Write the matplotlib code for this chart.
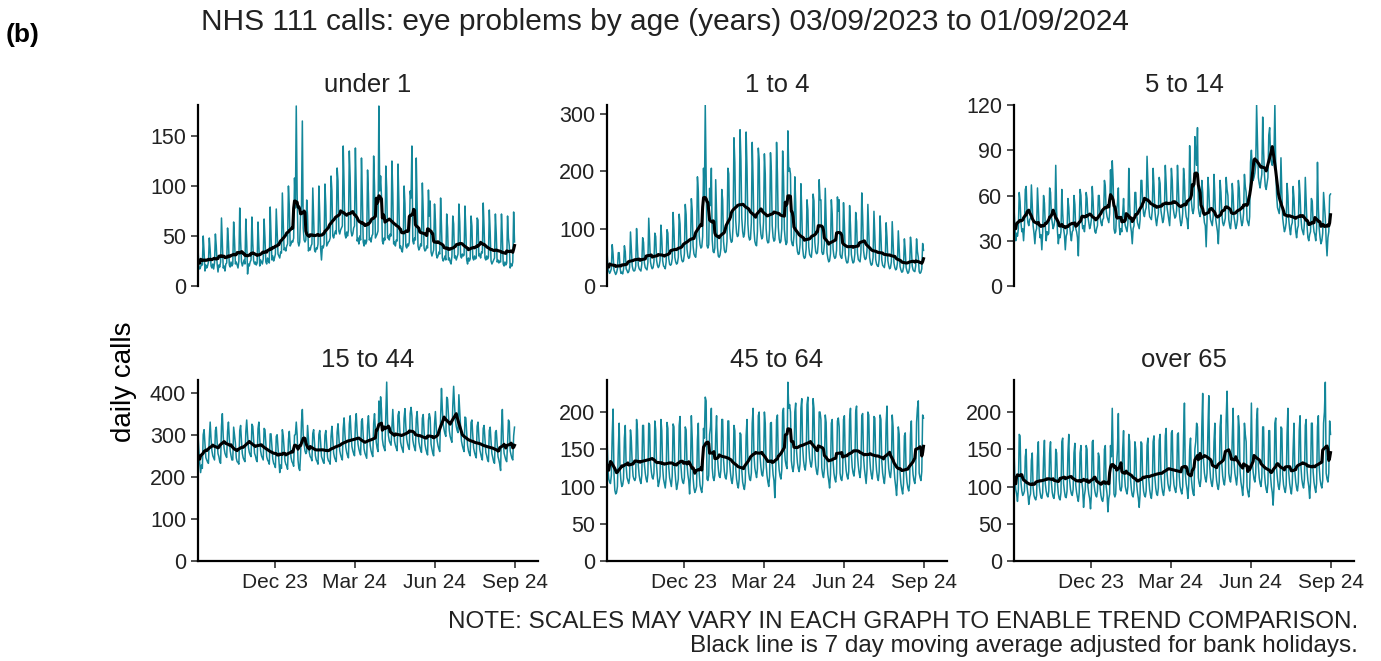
import matplotlib
matplotlib.use('Agg')
import matplotlib.pyplot as plt
import matplotlib.dates as mdates
import numpy as np
import pandas as pd

plt.rcParams['font.family'] = ['Liberation Sans', 'DejaVu Sans']

# 03/09/2023 (Sunday) .. 01/09/2024
dates = pd.date_range('2023-09-03', '2024-09-01', freq='D')

# daily calls, one row per week (Sun..Sat), last row = Sun 01/09/2024
under_1 = [
    [38, 20, 17, 19, 22, 21, 50], [34, 15, 21, 18, 20, 24, 48], [36, 20, 18, 22, 17, 23, 52],
    [40, 22, 14, 21, 19, 24, 68], [42, 18, 20, 15, 22, 23, 58], [44, 21, 19, 24, 20, 22, 64],
    [46, 22, 24, 21, 18, 25, 78], [45, 24, 20, 23, 26, 22, 67], [44, 12, 22, 20, 24, 26, 69],
    [42, 25, 22, 24, 21, 23, 64], [40, 20, 26, 24, 22, 27, 67], [48, 24, 22, 28, 25, 23, 79],
    [50, 26, 30, 25, 28, 32, 77], [55, 32, 30, 28, 34, 33, 93], [66, 36, 38, 35, 40, 42, 100],
    [80, 40, 42, 45, 44, 48, 108], [78, 180, 92, 44, 40, 44, 74], [80, 165, 58, 46, 44, 46, 86],
    [70, 35, 38, 36, 40, 42, 98], [68, 36, 34, 38, 37, 42, 100], [72, 38, 26, 40, 38, 42, 102],
    [80, 40, 42, 44, 45, 48, 110], [95, 50, 48, 52, 55, 52, 118], [105, 55, 52, 56, 58, 60, 140],
    [100, 52, 48, 54, 50, 56, 135], [108, 55, 50, 52, 58, 60, 138], [95, 45, 48, 42, 50, 46, 128],
    [90, 44, 40, 46, 42, 45, 116], [92, 46, 48, 44, 50, 52, 130], [100, 48, 50, 52, 55, 180, 95],
    [110, 90, 45, 42, 48, 46, 120], [98, 48, 50, 46, 52, 50, 125], [92, 42, 44, 40, 46, 45, 122],
    [85, 38, 40, 36, 34, 42, 100], [82, 40, 38, 42, 40, 44, 95], [88, 140, 45, 42, 48, 46, 128],
    [80, 40, 36, 38, 42, 40, 103], [75, 38, 35, 36, 40, 38, 96], [70, 85, 34, 30, 33, 36, 82],
    [66, 32, 28, 30, 34, 32, 88], [60, 28, 25, 27, 30, 26, 72], [58, 26, 28, 24, 22, 30, 70],
    [62, 28, 30, 26, 29, 32, 82], [64, 30, 28, 32, 30, 31, 80], [56, 26, 22, 28, 25, 27, 70],
    [60, 28, 26, 30, 27, 28, 68], [66, 30, 32, 28, 34, 33, 83], [58, 28, 26, 30, 27, 29, 76],
    [54, 25, 22, 24, 26, 28, 72], [52, 24, 26, 23, 25, 24, 72], [50, 22, 20, 24, 21, 23, 70],
    [48, 40, 18, 22, 20, 24, 74], [44],
]

age_1_4 = [
    [62, 32, 26, 22, 25, 30, 72], [55, 28, 24, 20, 23, 30, 58], [58, 32, 22, 24, 21, 29, 70],
    [60, 30, 27, 23, 25, 32, 94], [66, 35, 28, 26, 27, 34, 100], [70, 36, 30, 28, 26, 38, 84],
    [76, 40, 32, 30, 28, 40, 118], [80, 42, 34, 30, 32, 42, 92], [86, 45, 36, 32, 35, 44, 106],
    [82, 44, 35, 33, 30, 42, 98], [92, 48, 38, 36, 38, 48, 128], [98, 50, 42, 38, 40, 50, 125],
    [108, 56, 45, 42, 44, 56, 142], [124, 64, 52, 48, 50, 64, 152], [132, 70, 56, 52, 50, 68, 190],
    [165, 88, 72, 66, 68, 86, 205], [150, 315, 185, 70, 66, 72, 170], [140, 205, 80, 60, 58, 66, 185],
    [130, 68, 52, 50, 54, 66, 168], [150, 78, 62, 58, 60, 78, 205], [195, 100, 82, 76, 78, 104, 258],
    [215, 115, 92, 86, 88, 112, 272], [220, 118, 95, 85, 90, 116, 268], [205, 108, 86, 80, 82, 110, 250],
    [185, 98, 78, 72, 70, 95, 240], [220, 110, 90, 82, 85, 112, 230], [195, 100, 80, 75, 76, 98, 232],
    [200, 105, 85, 78, 80, 104, 250], [195, 102, 82, 75, 78, 100, 235], [190, 98, 80, 72, 76, 270, 200],
    [205, 195, 80, 72, 70, 88, 190], [145, 75, 60, 55, 56, 72, 178], [128, 66, 52, 48, 50, 64, 150],
    [132, 68, 55, 52, 50, 68, 160], [148, 76, 60, 56, 58, 76, 185], [150, 150, 60, 55, 56, 74, 170],
    [112, 58, 48, 42, 44, 56, 150], [125, 64, 52, 48, 50, 62, 155], [130, 150, 55, 50, 48, 62, 145],
    [108, 54, 44, 40, 41, 54, 140], [105, 55, 45, 40, 42, 55, 128], [112, 58, 46, 44, 42, 58, 162],
    [120, 62, 50, 46, 48, 62, 142], [98, 50, 40, 36, 38, 50, 130], [90, 46, 38, 35, 34, 46, 122],
    [88, 45, 36, 34, 32, 44, 110], [84, 44, 35, 30, 32, 42, 112], [78, 40, 32, 28, 30, 40, 96],
    [66, 34, 28, 24, 25, 33, 82], [62, 32, 26, 22, 24, 32, 85], [68, 35, 28, 26, 25, 35, 82],
    [60, 50, 25, 22, 24, 30, 74], [62],
]

age_5_14 = [
    [52, 40, 30, 35, 33, 38, 62], [56, 42, 36, 38, 30, 40, 64], [66, 48, 42, 40, 44, 45, 67],
    [54, 40, 35, 28, 36, 38, 65], [52, 38, 32, 34, 24, 36, 60], [55, 40, 30, 36, 34, 35, 65],
    [62, 46, 42, 38, 40, 44, 80], [50, 36, 28, 34, 32, 36, 64], [48, 38, 34, 24, 33, 35, 58],
    [52, 40, 34, 30, 36, 37, 60], [54, 38, 36, 32, 20, 40, 64], [60, 44, 38, 40, 36, 42, 62],
    [58, 46, 42, 38, 40, 44, 66], [56, 42, 36, 35, 38, 40, 60], [60, 46, 42, 40, 44, 45, 70],
    [66, 50, 46, 44, 42, 48, 77], [60, 83, 70, 38, 35, 36, 50], [55, 65, 40, 34, 38, 36, 48],
    [58, 44, 40, 38, 36, 42, 78], [55, 40, 36, 28, 38, 40, 62], [62, 48, 42, 40, 38, 44, 70],
    [70, 55, 48, 46, 50, 52, 86], [68, 52, 46, 45, 44, 50, 78], [66, 50, 44, 40, 45, 48, 72],
    [68, 50, 46, 42, 44, 50, 80], [68, 52, 48, 44, 40, 52, 78], [70, 52, 48, 45, 46, 50, 80],
    [66, 50, 44, 40, 42, 48, 78], [70, 52, 46, 44, 38, 50, 93], [72, 56, 50, 48, 52, 99, 88],
    [80, 105, 52, 48, 46, 50, 70], [62, 48, 42, 40, 26, 44, 72], [64, 50, 44, 42, 40, 46, 74],
    [60, 44, 40, 36, 28, 42, 70], [62, 48, 42, 40, 42, 45, 72], [64, 60, 44, 40, 38, 44, 68],
    [60, 46, 42, 38, 40, 44, 70], [65, 50, 44, 40, 42, 48, 74], [66, 62, 44, 42, 40, 46, 82],
    [90, 78, 70, 72, 75, 80, 120], [95, 72, 68, 65, 70, 74, 112], [90, 74, 66, 64, 68, 72, 100],
    [105, 88, 82, 80, 84, 88, 120], [80, 60, 52, 50, 48, 55, 85], [62, 45, 40, 36, 38, 42, 68],
    [60, 44, 38, 34, 40, 42, 66], [58, 44, 36, 32, 38, 40, 70], [60, 45, 38, 36, 34, 42, 72],
    [55, 40, 32, 30, 34, 36, 58], [56, 42, 36, 34, 30, 38, 82], [52, 38, 32, 28, 30, 35, 62],
    [54, 45, 30, 20, 32, 36, 60], [61],
]

age_15_44 = [
    [300, 262, 232, 210, 228, 220, 300], [312, 278, 246, 240, 235, 232, 292], [330, 290, 262, 250, 245, 240, 310],
    [318, 282, 255, 248, 236, 232, 320], [350, 296, 268, 256, 250, 246, 308], [330, 292, 262, 250, 240, 240, 318],
    [300, 280, 245, 236, 234, 230, 310], [322, 285, 255, 245, 240, 236, 307], [335, 300, 270, 258, 252, 248, 325],
    [320, 288, 256, 250, 240, 236, 314], [330, 290, 262, 250, 245, 240, 315], [312, 280, 248, 240, 236, 230, 302],
    [302, 270, 242, 232, 228, 222, 296], [300, 268, 240, 210, 228, 220, 312], [298, 266, 238, 230, 226, 218, 288],
    [308, 274, 246, 236, 232, 225, 299], [300, 330, 300, 240, 220, 215, 255], [330, 360, 300, 278, 262, 255, 260],
    [322, 290, 258, 248, 245, 238, 303], [312, 280, 250, 240, 236, 230, 300], [310, 282, 248, 242, 235, 232, 299],
    [310, 278, 246, 238, 236, 230, 296], [320, 286, 256, 246, 240, 236, 306], [326, 292, 262, 252, 245, 240, 315],
    [340, 300, 270, 258, 250, 245, 325], [345, 305, 272, 262, 255, 250, 327], [350, 308, 278, 266, 258, 252, 332],
    [338, 298, 266, 256, 250, 244, 322], [345, 305, 275, 262, 254, 248, 327], [350, 312, 282, 268, 260, 380, 330],
    [390, 360, 290, 275, 268, 262, 350], [425, 330, 298, 285, 280, 275, 320], [360, 318, 285, 275, 268, 262, 346],
    [355, 315, 282, 272, 265, 258, 339], [362, 320, 290, 278, 270, 265, 350], [365, 345, 288, 276, 268, 262, 338],
    [355, 315, 283, 272, 264, 258, 339], [348, 308, 278, 266, 258, 252, 334], [350, 340, 278, 266, 256, 250, 325],
    [355, 318, 286, 274, 266, 260, 341], [410, 360, 325, 312, 302, 296, 389], [385, 345, 310, 296, 288, 282, 369],
    [415, 370, 335, 320, 310, 305, 395], [355, 318, 285, 274, 266, 260, 342], [340, 305, 275, 262, 255, 250, 329],
    [335, 298, 268, 258, 250, 245, 320], [330, 295, 265, 255, 246, 240, 315], [322, 288, 258, 250, 240, 236, 310],
    [318, 284, 255, 245, 236, 232, 306], [310, 278, 248, 240, 230, 215, 313], [360, 288, 256, 248, 240, 236, 276],
    [335, 330, 262, 252, 244, 240, 297], [318],
]

age_45_64 = [
    [170, 126, 110, 106, 104, 115, 170], [204, 118, 95, 90, 92, 100, 150], [185, 124, 108, 100, 102, 110, 165],
    [182, 128, 112, 108, 104, 112, 176], [162, 130, 114, 110, 108, 112, 190], [176, 128, 115, 108, 104, 115, 182],
    [182, 130, 118, 110, 106, 116, 185], [183, 132, 120, 112, 110, 118, 188], [176, 128, 112, 100, 106, 114, 190],
    [175, 125, 110, 104, 98, 112, 186], [178, 126, 112, 106, 100, 114, 184], [180, 124, 108, 96, 102, 110, 182],
    [194, 128, 112, 106, 104, 112, 180], [176, 130, 116, 108, 90, 118, 195], [165, 112, 98, 92, 95, 100, 163],
    [185, 118, 102, 96, 92, 104, 178], [165, 220, 215, 110, 108, 115, 170], [180, 205, 125, 112, 108, 115, 168],
    [195, 140, 124, 114, 112, 122, 190], [190, 136, 120, 112, 110, 120, 188], [188, 132, 118, 108, 104, 116, 182],
    [175, 124, 110, 102, 98, 110, 172], [170, 122, 106, 100, 96, 106, 168], [190, 134, 118, 110, 108, 118, 185],
    [205, 142, 125, 118, 112, 124, 195], [200, 140, 126, 116, 114, 125, 200], [185, 130, 115, 106, 100, 114, 185],
    [186, 132, 116, 108, 85, 116, 190], [196, 138, 122, 114, 110, 122, 200], [205, 152, 135, 128, 124, 240, 205],
    [210, 200, 135, 125, 120, 130, 200], [212, 148, 132, 124, 120, 130, 205], [218, 152, 135, 126, 122, 134, 210],
    [220, 155, 138, 130, 126, 136, 218], [205, 145, 128, 120, 116, 128, 200], [200, 190, 125, 116, 112, 124, 196],
    [186, 132, 116, 108, 98, 116, 185], [190, 134, 118, 110, 106, 118, 188], [192, 180, 118, 110, 108, 118, 190],
    [195, 138, 122, 114, 110, 120, 190], [205, 144, 126, 118, 114, 126, 200], [208, 142, 128, 118, 112, 126, 195],
    [198, 140, 124, 114, 104, 122, 200], [196, 140, 124, 115, 110, 123, 194], [192, 138, 122, 112, 108, 120, 196],
    [190, 134, 118, 110, 104, 118, 185], [208, 142, 124, 116, 112, 124, 196], [180, 126, 110, 100, 88, 110, 180],
    [170, 118, 104, 96, 90, 104, 168], [172, 120, 106, 98, 94, 104, 170], [188, 132, 116, 108, 104, 116, 186],
    [205, 215, 118, 112, 108, 120, 196], [192],
]

over_65 = [
    [150, 110, 96, 90, 80, 96, 170], [168, 106, 94, 88, 90, 94, 140], [150, 100, 90, 76, 86, 90, 135],
    [145, 98, 88, 84, 82, 88, 140], [160, 102, 92, 85, 84, 92, 138], [162, 104, 94, 88, 86, 94, 145],
    [160, 106, 92, 86, 84, 95, 150], [145, 104, 90, 84, 82, 92, 160], [165, 104, 94, 86, 85, 94, 145],
    [170, 108, 96, 90, 88, 96, 145], [158, 102, 92, 85, 80, 92, 145], [155, 106, 96, 72, 88, 96, 155],
    [150, 100, 90, 84, 70, 90, 160], [162, 104, 94, 88, 86, 94, 145], [140, 98, 88, 82, 80, 88, 150],
    [155, 100, 90, 66, 84, 90, 155], [140, 205, 140, 90, 86, 90, 130], [150, 198, 110, 96, 94, 100, 150],
    [175, 116, 100, 94, 90, 100, 170], [160, 110, 96, 88, 86, 95, 160], [150, 104, 92, 84, 72, 90, 160],
    [158, 108, 94, 88, 86, 94, 155], [165, 110, 96, 88, 84, 96, 160], [168, 112, 98, 90, 88, 98, 162],
    [170, 114, 100, 92, 88, 98, 168], [178, 118, 104, 98, 94, 104, 172], [175, 116, 102, 96, 92, 102, 170],
    [172, 114, 100, 94, 90, 100, 168], [212, 118, 104, 96, 84, 104, 150], [165, 110, 98, 90, 88, 150, 160],
    [185, 180, 112, 104, 100, 110, 180], [225, 134, 118, 110, 106, 118, 175], [222, 128, 112, 104, 100, 112, 160],
    [185, 122, 108, 100, 96, 106, 180], [196, 130, 114, 106, 102, 114, 190], [228, 175, 118, 110, 106, 118, 165],
    [205, 134, 118, 110, 102, 116, 195], [180, 120, 106, 98, 88, 106, 185], [170, 160, 100, 92, 86, 98, 135],
    [212, 136, 120, 110, 106, 118, 190], [205, 128, 112, 104, 100, 112, 180], [180, 118, 104, 96, 92, 104, 175],
    [175, 114, 100, 92, 75, 100, 185], [192, 124, 110, 100, 96, 108, 180], [178, 116, 102, 96, 92, 102, 170],
    [205, 118, 104, 96, 90, 104, 150], [185, 120, 106, 98, 94, 106, 175], [195, 126, 110, 102, 98, 110, 182],
    [190, 122, 108, 100, 84, 106, 185], [185, 120, 106, 98, 92, 104, 180], [195, 126, 110, 102, 98, 108, 185],
    [200, 240, 118, 110, 106, 118, 188], [170],
]

titles = ['under 1', '1 to 4', '5 to 14', '15 to 44', '45 to 64', 'over 65']
series = [under_1, age_1_4, age_5_14, age_15_44, age_45_64, over_65]
y_tops = [181, 315, 120, 430, 243, 243]
y_ticks = [[0, 50, 100, 150], [0, 100, 200, 300], [0, 30, 60, 90, 120],
           [0, 100, 200, 300, 400], [0, 50, 100, 150, 200], [0, 50, 100, 150, 200]]
x_ticks = pd.to_datetime(['2023-12-01', '2024-03-01', '2024-06-01', '2024-09-01'])

teal = '#13879a'
W, H = 1381, 661
fig = plt.figure(figsize=(W / 100, H / 100), dpi=100)

lefts = [198, 607, 1014]
tops = [105, 380]
aw, ah = 340, 181

for i, (name, weeks) in enumerate(zip(titles, series)):
    r, c = divmod(i, 3)
    ax = fig.add_axes([lefts[c] / W, 1 - (tops[r] + ah) / H, aw / W, ah / H])
    vals = np.array(sum(weeks, []), dtype=float)
    avg = pd.Series(vals).rolling(7, center=True, min_periods=4).mean()
    ax.plot(dates, vals, color=teal, lw=1.1)
    ax.plot(dates, avg, color='black', lw=2.2)
    ax.set_xlim(pd.Timestamp('2023-09-03'), pd.Timestamp('2024-09-28'))
    ax.set_ylim(0, y_tops[i])
    ax.set_yticks(y_ticks[i])
    ax.set_title(name, fontsize=18.5, pad=9, color='#222222')
    for s in ['top', 'right']:
        ax.spines[s].set_visible(False)
    ax.spines['left'].set_linewidth(1.6)
    ax.tick_params(axis='y', labelsize=15.5, length=5, width=1.2, colors='#333333', labelcolor='#222222')
    if r == 0:
        ax.spines['bottom'].set_visible(False)
        ax.set_xticks([])
    else:
        ax.spines['bottom'].set_linewidth(1.6)
        ax.set_xticks(x_ticks)
        ax.xaxis.set_major_formatter(mdates.DateFormatter('%b %y'))
        ax.tick_params(axis='x', labelsize=15, length=5, width=1.2, colors='#333333', labelcolor='#222222')

fig.text(6 / W, 1 - 35 / H, '(b)', fontsize=19, fontweight='bold', va='center', ha='left')
fig.text(665 / W, 1 - 22 / H, 'NHS 111 calls: eye problems by age (years) 03/09/2023 to 01/09/2024',
         fontsize=21.5, ha='center', va='center', color='#222222')
fig.text(124 / W, 1 - 382 / H, 'daily calls', fontsize=20, rotation=90, ha='center', va='center')
fig.text(1358 / W, 1 - 622 / H, 'NOTE: SCALES MAY VARY IN EACH GRAPH TO ENABLE TREND COMPARISON.',
         fontsize=17.5, ha='right', va='center', color='#222222')
fig.text(1358 / W, 1 - 646 / H, 'Black line is 7 day moving average adjusted for bank holidays.',
         fontsize=17.5, ha='right', va='center', color='#222222')

fig.savefig('out.png', dpi=100)
